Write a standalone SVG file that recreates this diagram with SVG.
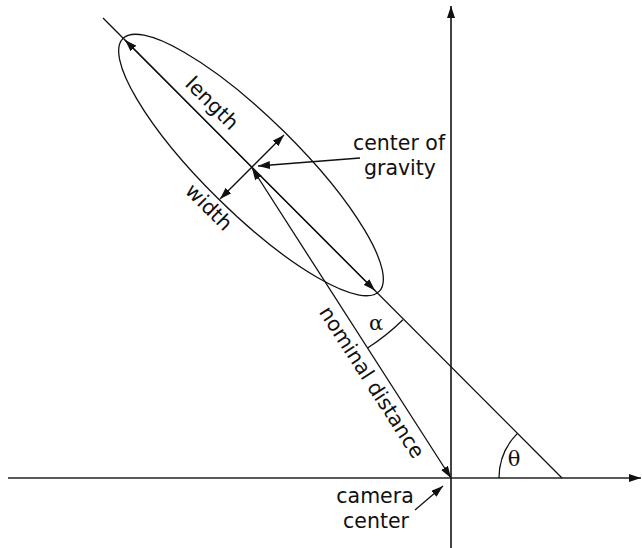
<svg xmlns="http://www.w3.org/2000/svg" width="642" height="548" viewBox="0 0 642 548">
<style>
.ln{stroke:#111;stroke-width:1.3;fill:none}
.ax{stroke:#222;stroke-width:1.7;fill:none}
.t{font-family:"DejaVu Sans",sans-serif;font-size:20.5px;fill:#111}
.g{font-family:"DejaVu Serif","Liberation Serif",serif;font-size:21px;fill:#111}
</style>
<defs>
<marker id="ah" viewBox="0 0 12 8" refX="12" refY="4" markerWidth="12" markerHeight="8" markerUnits="userSpaceOnUse" orient="auto-start-reverse">
<path d="M0,0 L12,4 L0,8 z" fill="#111"/>
</marker>
</defs>
<rect width="642" height="548" fill="#fff"/>
<g id="connectors">
<line id="x-axis" class="ax" x1="8" y1="478" x2="641" y2="478" marker-end="url(#ah)"/>
<line id="y-axis" class="ax" x1="451" y1="548" x2="451" y2="6" marker-end="url(#ah)"/>
<line id="main-axis" class="ln" x1="103" y1="18" x2="562" y2="478"/>
<line id="length-arrow" class="ln" x1="125" y1="40.05" x2="375" y2="290.6" marker-start="url(#ah)" marker-end="url(#ah)"/>
<line id="width-arrow" class="ln" x1="284" y1="135" x2="220" y2="199" marker-start="url(#ah)" marker-end="url(#ah)"/>
<line id="nominal-arrow" class="ln" x1="252" y1="168" x2="451" y2="478" marker-start="url(#ah)" marker-end="url(#ah)"/>
<line id="cog-arrow" class="ln" x1="360" y1="158" x2="258" y2="166" marker-end="url(#ah)"/>
<line id="camera-arrow" class="ln" x1="415" y1="510" x2="443" y2="486" marker-end="url(#ah)"/>
<path id="alpha-arc" class="ln" d="M367.6,348 A214,214 0 0 0 402.9,319.8"/>
<path id="theta-arc" class="ln" d="M499,478 A63,63 0 0 1 517.5,433.4"/>
</g>
<g id="ellipse">
<ellipse class="ln" cx="251" cy="165" rx="180" ry="47" transform="rotate(44.6 251 165)"/>
</g>
<g id="label-length">
<text class="t" text-anchor="middle" transform="translate(207,108) rotate(45)">length</text>
</g>
<g id="label-width">
<text class="t" text-anchor="middle" transform="translate(204,212) rotate(45)">width</text>
</g>
<g id="label-cog">
<text class="t" text-anchor="middle" x="399" y="150">center of</text>
<text class="t" text-anchor="middle" x="400" y="175">gravity</text>
</g>
<g id="label-nominal">
<text class="t" text-anchor="middle" transform="translate(366,386) rotate(57.3)">nominal distance</text>
</g>
<g id="label-camera">
<text class="t" text-anchor="middle" x="375" y="503">camera</text>
<text class="t" text-anchor="middle" x="376" y="528">center</text>
</g>
<g id="label-alpha">
<text class="g" text-anchor="middle" x="376" y="330">α</text>
</g>
<g id="label-theta">
<text class="g" text-anchor="middle" x="514" y="466">θ</text>
</g>
</svg>
